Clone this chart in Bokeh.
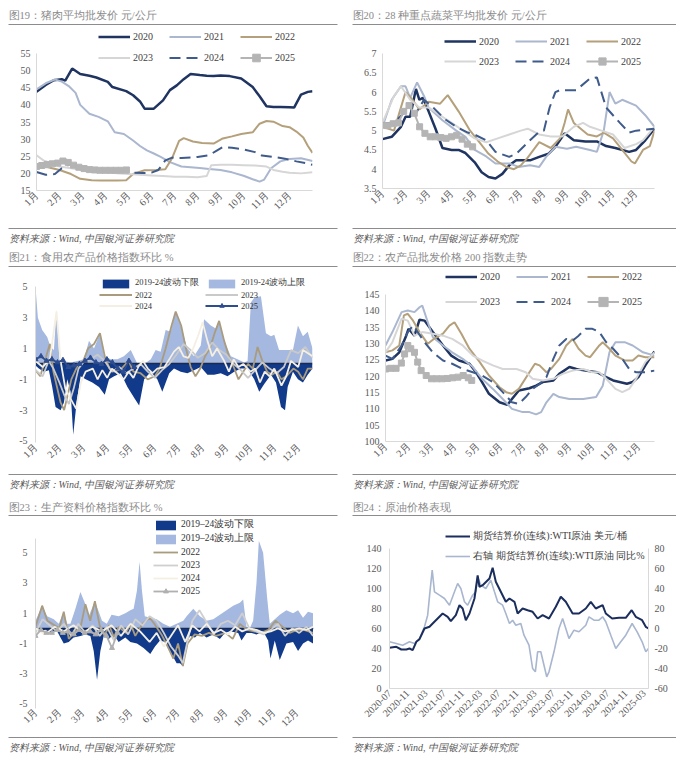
import math
from bokeh.plotting import figure
from bokeh.models import Legend, LegendItem, Range1d, LinearAxis, FixedTicker
from bokeh.layouts import column, row
from bokeh.core.properties import value
from bokeh.embed import file_html
from bokeh.resources import INLINE

# ---------------- data ----------------
MONTH_TICKS = list(range(12))
MONTH_LABELS = ["1月", "2月", "3月", "4月", "5月", "6月", "7月", "8月", "9月", "10月", "11月", "12月"]

# Fig 19 pork wholesale price (x = month index, y = yuan/kg)
PORK_2020 = [(0, 43.8), (0.4, 45.8), (0.75, 47.2), (1.1, 47.5), (1.25, 47.1), (1.55, 50.6), (1.9, 49.0), (2.3, 48.5),
             (2.6, 48.0), (3.1, 46.7), (3.3, 45.2), (3.9, 44.0), (4.2, 42.8), (4.5, 41.0), (4.7, 38.9), (5.1, 38.9),
             (5.5, 41.3), (5.8, 44.3), (6.1, 45.7), (6.4, 47.5), (6.7, 49.0), (7.1, 48.7), (7.4, 48.5), (7.7, 48.4),
             (8.0, 48.6), (8.4, 48.4), (8.9, 47.7), (9.4, 45.2), (9.7, 42.5), (10.0, 39.6), (10.3, 39.4), (10.6, 39.4),
             (11.0, 39.3), (11.2, 39.2), (11.5, 43.0), (11.8, 43.8), (12.0, 44.0)]
PORK_2021 = [(0, 44.5), (0.4, 46.3), (0.8, 47.4), (1.1, 46.8), (1.4, 45.5), (1.7, 43.5), (1.9, 40.0), (2.3, 37.4),
             (2.7, 36.5), (3.1, 35.2), (3.4, 32.0), (3.8, 31.5), (4.2, 29.6), (4.5, 28.0), (4.8, 26.7), (5.1, 25.8),
             (5.4, 24.8), (5.8, 23.3), (6.3, 22.0), (6.7, 21.8), (7.1, 21.6), (7.5, 21.3), (8.0, 21.0), (8.5, 20.3),
             (9.0, 19.3), (9.4, 18.3), (9.7, 17.6), (9.9, 18.2), (10.2, 21.5), (10.6, 23.5), (11.0, 24.2), (11.5, 24.4),
             (12.0, 23.6)]
PORK_2022 = [(0, 22.0), (0.5, 21.8), (1.0, 21.0), (1.5, 19.8), (1.9, 18.4), (2.4, 18.0), (2.8, 17.9), (3.5, 17.9),
             (3.9, 18.0), (4.2, 19.8), (4.7, 20.9), (5.2, 21.0), (5.6, 21.2), (5.9, 24.5), (6.2, 29.5), (6.4, 30.3),
             (6.8, 29.3), (7.2, 28.9), (7.7, 28.7), (8.1, 30.2), (8.5, 30.8), (8.9, 31.5), (9.4, 32.0), (9.7, 34.5),
             (10.0, 35.3), (10.3, 35.1), (10.7, 33.8), (11.0, 33.5), (11.3, 32.2), (11.6, 30.5), (11.8, 28.0), (12.0, 26.0)]
PORK_2023 = [(0, 25.3), (0.3, 23.8), (0.7, 22.8), (1.0, 22.0), (1.5, 21.5), (2.0, 21.0), (2.5, 20.5), (3.0, 20.3),
             (3.5, 20.0), (4.0, 19.8), (4.5, 19.6), (5.0, 19.4), (5.5, 19.2), (6.0, 19.0), (6.5, 19.0), (7.0, 18.9),
             (7.4, 19.2), (7.6, 22.4), (8.0, 22.5), (8.5, 22.5), (9.0, 22.4), (9.5, 22.3), (10.0, 22.0), (10.3, 21.0),
             (10.7, 20.5), (11.0, 20.2), (11.5, 20.0), (12.0, 20.3)]
PORK_2024 = [(0, 20.4), (0.4, 19.6), (0.8, 19.8), (1.1, 21.5), (1.4, 22.5), (1.8, 22.0), (2.2, 21.3), (2.8, 20.8),
             (3.4, 20.5), (4.0, 20.3), (4.6, 20.1), (5.0, 20.2), (5.3, 21.0), (5.6, 23.8), (5.9, 24.6), (6.3, 24.5),
             (6.7, 24.6), (7.0, 24.8), (7.5, 25.3), (7.8, 26.5), (8.1, 27.7), (8.5, 27.5), (9.0, 27.0), (9.5, 26.2),
             (9.8, 25.2), (10.3, 24.8), (10.8, 24.3), (11.3, 23.5), (11.7, 23.0), (12.0, 22.5)]
PORK_2025 = [(0, 22.0), (0.23, 22.3), (0.46, 22.6), (0.69, 22.8), (0.92, 23.0), (1.15, 23.6), (1.38, 23.2), (1.61, 22.4),
             (1.84, 21.8), (2.07, 21.4), (2.3, 21.1), (2.53, 21.0), (2.76, 20.9), (2.99, 20.9), (3.22, 20.9), (3.45, 20.9),
             (3.68, 20.9), (3.91, 21.0)]
PORK_TICKS = [15, 20, 25, 30, 35, 40, 45, 50, 55]

# Fig 20 vegetables
VEG_2020 = [(0, 4.78), (0.4, 4.84), (0.8, 5.1), (1.0, 5.36), (1.2, 5.36), (1.45, 6.08), (1.6, 5.8), (1.75, 5.85),
            (2.0, 5.5), (2.3, 5.05), (2.6, 4.55), (3.0, 4.5), (3.3, 4.5), (3.6, 4.42), (4.0, 4.18), (4.3, 3.92),
            (4.6, 3.8), (4.9, 3.76), (5.2, 3.88), (5.5, 4.1), (5.8, 4.23), (6.4, 4.23), (6.8, 4.32), (7.2, 4.4),
            (7.5, 4.58), (7.9, 4.93), (8.3, 4.75), (8.8, 4.72), (9.3, 4.72), (9.7, 4.6), (10.1, 4.55), (10.7, 4.45),
            (11.0, 4.5), (11.4, 4.75), (11.8, 5.05)]
VEG_2021 = [(0, 5.1), (0.4, 5.8), (0.8, 6.15), (1.0, 6.15), (1.2, 5.85), (1.5, 6.25), (1.8, 5.9), (2.0, 5.6),
            (2.6, 5.27), (3.2, 5.0), (3.6, 4.84), (4.0, 4.5), (4.5, 4.33), (4.9, 4.15), (5.5, 4.15), (5.9, 4.06),
            (6.4, 4.1), (6.8, 4.06), (7.1, 4.32), (7.5, 4.58), (8.0, 4.53), (8.4, 4.58), (9.0, 4.5), (9.3, 4.45),
            (9.6, 5.0), (9.85, 6.0), (10.1, 5.7), (10.4, 5.8), (11.0, 5.65), (11.4, 5.4), (11.8, 5.1)]
VEG_2022 = [(0, 5.1), (0.5, 5.0), (1.0, 6.0), (1.3, 5.8), (1.6, 5.55), (2.0, 5.75), (2.5, 5.7), (2.83, 5.92),
            (3.3, 5.5), (3.8, 5.0), (4.2, 4.7), (4.6, 4.4), (5.0, 4.2), (5.4, 4.05), (5.7, 4.0), (6.0, 4.1),
            (6.3, 4.3), (6.8, 4.7), (7.3, 4.55), (7.7, 4.8), (7.9, 5.2), (8.05, 5.55), (8.3, 5.2), (8.9, 4.9),
            (9.3, 4.85), (9.6, 4.95), (10.0, 4.8), (10.4, 4.5), (10.8, 4.2), (10.95, 4.15), (11.3, 4.5), (11.6, 4.6),
            (11.8, 5.0)]
VEG_2023 = [(0, 5.2), (0.5, 5.9), (0.8, 6.15), (1.2, 5.8), (1.6, 5.6), (2.0, 5.6), (2.5, 5.4), (3.0, 5.2),
            (3.5, 5.0), (4.0, 4.8), (4.5, 4.7), (5.0, 4.8), (5.5, 4.9), (6.0, 5.0), (6.3, 5.05), (6.8, 4.9),
            (7.3, 4.85), (7.8, 4.85), (8.3, 5.1), (8.7, 5.2), (9.0, 5.1), (9.5, 5.0), (10.0, 4.9), (10.5, 4.55),
            (11.0, 4.65), (11.3, 4.75), (11.8, 5.1)]
VEG_2024 = [(0, 5.2), (0.5, 5.2), (1.0, 5.5), (1.4, 5.4), (1.8, 5.8), (2.2, 5.6), (2.7, 5.3), (3.2, 5.1),
            (3.7, 4.95), (4.05, 4.88), (4.5, 4.75), (4.9, 4.45), (5.5, 4.32), (5.8, 4.4), (6.4, 4.75), (6.8, 4.97),
            (7.0, 5.0), (7.25, 5.6), (7.5, 6.0), (7.7, 6.05), (8.4, 6.05), (9.0, 6.35), (9.3, 6.38), (9.7, 5.6),
            (10.3, 5.2), (10.7, 4.95), (11.0, 5.0), (11.8, 5.05)]
VEG_2025 = [(0, 5.14), (0.23, 5.13), (0.46, 5.18), (0.69, 5.2), (0.92, 5.5), (1.15, 5.65), (1.38, 5.45), (1.61, 5.1),
            (1.84, 4.93), (2.07, 4.84), (2.3, 4.84), (2.53, 4.82), (2.76, 4.8), (2.99, 4.84), (3.22, 4.88), (3.45, 4.78),
            (3.68, 4.65), (3.91, 4.58)]
VEG_TICKS = [3.5, 4, 4.5, 5, 5.5, 6, 6.5, 7]
VEG_LABELS = ["3.5", "4", "4.5", "5", "5.5", "6", "6.5", "7"]

# Fig 21 edible agricultural products price index, w/w %
FOOD_LOW = [(0, -0.1), (0.14, -0.3), (0.35, -0.5), (0.56, -0.4), (0.7, -1.5), (0.84, -2.8), (1.05, -3.0), (1.19, -2.5),
            (1.33, -1.0), (1.47, -1.8), (1.58, -4.6), (1.72, -2.5), (1.89, -0.8), (2.1, -1.0), (2.38, -1.2), (2.66, -1.5),
            (2.9, -2.0), (3.08, -1.0), (3.29, -0.8), (3.57, -0.6), (3.85, -1.5), (4.13, -2.2), (4.34, -2.7), (4.55, -1.0),
            (4.83, -0.5), (5.1, -1.0), (5.31, -1.8), (5.6, -0.6), (5.8, -0.3), (6.08, -0.5), (6.36, -0.6), (6.64, -0.4),
            (6.92, -0.2), (7.2, -0.7), (7.48, -0.7), (7.76, -0.6), (8.04, -0.8), (8.32, -0.5), (8.6, -0.3), (8.88, -0.3),
            (9.16, -1.0), (9.37, -1.8), (9.58, -1.3), (9.86, -0.7), (10.07, -1.2), (10.28, -2.8), (10.45, -3.0),
            (10.56, -1.5), (10.78, -0.5), (10.99, -1.0), (11.2, -1.2), (11.4, -0.7), (11.6, -0.3)]
FOOD_UP = [(0, 5.0), (0.1, 3.0), (0.28, 2.2), (0.49, 1.75), (0.63, 1.1), (0.77, 0.9), (0.88, 3.5), (1.0, 0.3),
           (1.19, 0.2), (1.47, 0.1), (1.75, 0.2), (2.03, 0.3), (2.24, 1.5), (2.45, 1.0), (2.7, 2.0), (2.87, 0.5),
           (3.15, 0.3), (3.43, 0.3), (3.7, 0.5), (3.99, 0.9), (4.27, 0.0), (4.55, 0.0), (4.83, 0.3), (5.03, 0.9),
           (5.24, 0.8), (5.45, 2.2), (5.66, 2.1), (5.87, 3.4), (6.08, 2.5), (6.36, 1.0), (6.64, 0.5), (6.92, 1.2),
           (7.06, 2.9), (7.34, 2.5), (7.55, 2.3), (7.69, 2.8), (7.9, 1.5), (8.18, 0.5), (8.46, 0.3), (8.74, 0.1),
           (8.88, 0.2), (9.02, 4.0), (9.16, 4.3), (9.44, 4.4), (9.65, 2.0), (9.86, 1.8), (10.0, 1.9), (10.2, 0.9),
           (10.5, 0.9), (10.78, 0.9), (10.99, 2.5), (11.2, 1.8), (11.4, 2.1), (11.6, 1.0)]
FOOD_2022 = [(0, -0.4), (0.2, -0.8), (0.45, 0.5), (0.6, 1.3), (0.75, -0.5), (0.9, -1.5), (1.05, -2.5), (1.2, -3.0),
             (1.35, -2.0), (1.5, -1.0), (1.65, -0.5), (1.8, 0.0), (2.0, 0.2), (2.2, 1.0), (2.45, 1.3), (2.7, 2.0),
             (2.9, 0.5), (3.1, -0.3), (3.3, -0.5), (3.6, -0.3), (3.9, 0.2), (4.1, -0.5), (4.4, -0.6), (4.7, -1.0),
             (5.0, -0.8), (5.2, -0.3), (5.45, 1.0), (5.7, 2.5), (5.87, 3.4), (6.1, 2.5), (6.3, 1.0), (6.5, -0.2),
             (6.7, -0.8), (6.9, -0.3), (7.1, 0.5), (7.3, 1.0), (7.5, 2.0), (7.69, 2.8), (7.9, 1.5), (8.1, 0.5),
             (8.3, -0.2), (8.5, -1.0), (8.7, -0.5), (8.9, 0.0), (9.1, -0.3), (9.3, 1.1), (9.5, 0.2), (9.7, -0.5),
             (9.9, -0.7), (10.1, -0.5), (10.3, -1.0), (10.5, -0.8), (10.8, -0.3), (11.0, -0.5), (11.2, -1.0),
             (11.4, -0.3), (11.6, -0.3)]
FOOD_2023 = [(0, -0.4), (0.3, -0.8), (0.55, 0.2), (0.75, -0.3), (1.0, -1.2), (1.2, -2.0), (1.4, -2.6), (1.6, -1.6),
             (1.8, -0.3), (2.0, 0.1), (2.3, 0.3), (2.6, 0.6), (2.9, 0.2), (3.2, -0.5), (3.5, -0.2), (3.8, -0.6),
             (4.1, -0.3), (4.4, 0.0), (4.7, -0.5), (5.0, -0.9), (5.3, -0.4), (5.6, 0.0), (5.9, 0.6), (6.2, 1.3),
             (6.5, 0.9), (6.8, 0.4), (7.1, 0.7), (7.4, 1.4), (7.7, 0.9), (8.0, 0.6), (8.3, 0.0), (8.6, -0.4),
             (8.9, -0.9), (9.2, -0.4), (9.5, 0.1), (9.8, -0.3), (10.1, -0.6), (10.4, -0.2), (10.7, 0.9), (11.0, 0.7),
             (11.3, 1.1), (11.6, 0.4)]
FOOD_2024 = [(0, 0.2), (0.3, -0.2), (0.6, 0.3), (0.88, 3.4), (1.05, 0.2), (1.25, -1.6), (1.45, -2.2), (1.7, -2.9),
             (1.9, -1.2), (2.1, -0.5), (2.4, -0.3), (2.6, -1.0), (2.8, -0.4), (3.0, -0.9), (3.2, -0.3), (3.5, -0.7),
             (3.7, -1.0), (3.9, -0.5), (4.1, -0.9), (4.3, -0.2), (4.5, 0.2), (4.7, -0.3), (4.9, -0.6), (5.1, -0.3),
             (5.4, -0.2), (5.6, 0.3), (5.8, 0.8), (6.0, 1.1), (6.2, 0.5), (6.4, 0.4), (6.6, 1.0), (6.8, 1.8),
             (7.0, 2.7), (7.2, 1.5), (7.4, 0.5), (7.6, 1.0), (7.9, 0.2), (8.1, -0.5), (8.3, 0.3), (8.5, -0.2),
             (8.7, 0.0), (9.0, -0.5), (9.2, -0.3), (9.4, -1.2), (9.6, -0.5), (9.8, -0.8), (10.0, -0.3), (10.3, -1.4),
             (10.5, -0.8), (10.7, 0.2), (11.0, -0.2), (11.2, 0.9), (11.6, 0.5)]
FOOD_2025 = [(0, 0.3), (0.23, 0.5), (0.46, 0.2), (0.69, 0.3), (0.92, 0.1), (1.15, 0.25), (1.38, -0.2), (1.61, -0.1),
             (1.84, 0.0), (2.07, 0.2), (2.3, 0.4), (2.53, 0.1), (2.76, 0.0), (2.99, 0.3), (3.22, 0.1), (3.45, -0.3),
             (3.68, -0.5), (3.91, 0.2), (4.14, -0.2)]
RATIO_TICKS = [-5, -3, -1, 1, 3, 5]
RATIO_LABELS = ["-5", "-3", "-1", "1", "3", "5"]

# Fig 22 agricultural wholesale price 200 index
IDX_2020 = [(0, 124.8), (0.3, 125.3), (0.6, 127.3), (0.9, 132.4), (1.0, 134.5), (1.26, 132.4), (1.48, 137.3), (1.7, 137.0),
            (2.06, 133.5), (2.5, 129.4), (2.86, 126.3), (3.2, 124.8), (3.65, 123.8), (3.94, 121.2), (4.2, 118.2),
            (4.5, 114.6), (4.96, 112.0), (5.3, 111.2), (5.5, 113.0), (5.8, 115.6), (6.26, 116.3), (6.55, 117.1),
            (6.84, 118.2), (7.3, 118.7), (7.56, 120.7), (8.0, 122.8), (8.3, 122.2), (8.7, 121.7), (9.2, 121.2),
            (9.6, 119.7), (9.9, 118.7), (10.5, 117.7), (10.75, 118.2), (11.0, 119.7), (11.3, 123.3), (11.7, 127.6)]
IDX_2021 = [(0, 129.4), (0.3, 133.5), (0.7, 139.6), (0.97, 140.1), (1.26, 139.6), (1.48, 141.1), (1.6, 141.6), (1.84, 136.5),
            (2.06, 131.9), (2.5, 129.4), (2.9, 127.3), (3.36, 125.3), (3.8, 122.8), (4.2, 119.2), (4.67, 116.1),
            (5.1, 113.0), (5.5, 110.0), (5.97, 109.0), (6.26, 109.0), (6.55, 108.3), (6.77, 109.0), (7.0, 112.0),
            (7.3, 114.6), (7.56, 113.6), (8.0, 113.0), (8.6, 113.0), (9.16, 113.6), (9.45, 117.1), (9.74, 127.3),
            (10.0, 130.4), (10.4, 130.4), (10.75, 129.4), (11.2, 127.3), (11.7, 126.3)]
IDX_2022 = [(0, 127.3), (0.3, 127.9), (0.6, 129.4), (0.8, 138.6), (0.97, 139.1), (1.2, 137.0), (1.48, 133.5), (1.84, 129.9),
            (2.1, 131.4), (2.5, 133.0), (2.78, 135.5), (3.0, 136.5), (3.3, 133.0), (3.65, 128.4), (4.1, 124.3),
            (4.5, 120.2), (4.96, 116.6), (5.25, 115.1), (5.5, 114.6), (5.8, 116.1), (6.26, 121.2), (6.5, 123.8),
            (6.7, 123.3), (7.0, 121.2), (7.2, 122.2), (7.56, 125.3), (7.86, 129.4), (8.14, 131.4), (8.4, 128.4),
            (8.7, 126.3), (8.9, 125.8), (9.3, 129.4), (9.45, 130.4), (9.74, 128.4), (10.0, 126.3), (10.4, 124.8),
            (10.75, 124.8), (11.0, 126.3), (11.3, 125.8), (11.7, 125.8)]
IDX_2023 = [(0, 127.3), (0.3, 130.4), (0.7, 137.6), (0.97, 137.0), (1.26, 132.4), (1.6, 133.5), (2.06, 133.0), (2.5, 132.4),
            (2.9, 131.4), (3.36, 129.4), (3.8, 126.3), (4.2, 124.8), (4.67, 123.3), (5.1, 122.2), (5.7, 122.2),
            (6.1, 121.2), (6.4, 119.2), (6.84, 118.7), (7.3, 119.2), (7.7, 120.7), (8.14, 121.7), (8.6, 122.2),
            (9.0, 121.2), (9.3, 121.2), (9.6, 119.2), (10.0, 116.1), (10.3, 115.1), (10.6, 116.1), (10.9, 119.2),
            (11.3, 124.3), (11.7, 127.3)]
IDX_2024 = [(0, 126.3), (0.3, 125.3), (0.7, 129.4), (0.97, 133.5), (1.2, 135.5), (1.4, 133.5), (1.7, 130.4), (2.06, 127.3),
            (2.5, 124.8), (2.9, 123.8), (3.36, 122.2), (3.8, 121.2), (4.2, 120.2), (4.67, 118.2), (5.1, 115.1),
            (5.5, 112.0), (5.8, 111.5), (6.1, 113.6), (6.4, 116.1), (6.7, 117.6), (7.0, 119.7), (7.3, 125.3),
            (7.56, 129.4), (7.86, 131.4), (8.14, 130.9), (8.4, 132.4), (8.7, 134.5), (9.0, 134.5), (9.3, 133.5),
            (9.6, 130.4), (9.9, 128.4), (10.3, 125.3), (10.6, 122.2), (10.9, 121.2), (11.3, 121.2), (11.7, 121.7)]
IDX_2025 = [(0, 122.2), (0.23, 122.4), (0.46, 122.4), (0.69, 124.0), (0.83, 126.8), (0.97, 129.4), (1.1, 128.4),
            (1.26, 127.3), (1.4, 124.3), (1.55, 121.7), (1.77, 120.2), (2.0, 119.2), (2.23, 119.2), (2.46, 119.2),
            (2.69, 119.3), (2.92, 119.5), (3.15, 119.7), (3.38, 120.2), (3.6, 119.5), (3.75, 118.7)]
IDX_TICKS = [100, 105, 110, 115, 120, 125, 130, 135, 140, 145]

# Fig 23 means of production price index, w/w %
PROD_LOW = [(0, 0.0), (0.2, -0.2), (0.42, -0.1), (0.63, -0.3), (0.91, -0.2), (1.05, -0.6), (1.19, -1.0), (1.4, -0.9),
            (1.6, -0.6), (1.89, -0.5), (2.1, -0.4), (2.31, -0.5), (2.45, -1.5), (2.59, -3.4), (2.73, -1.5), (2.87, -0.5),
            (3.08, -0.7), (3.29, -0.4), (3.5, -0.9), (3.78, -0.6), (3.99, -0.9), (4.27, -1.0), (4.55, -1.3), (4.83, -1.7),
            (5.03, -1.2), (5.24, -0.8), (5.45, -0.9), (5.66, -1.5), (5.94, -2.3), (6.08, -2.3), (6.22, -2.5), (6.36, -1.0),
            (6.5, -0.5), (6.71, -0.6), (6.92, -0.3), (7.2, -0.6), (7.48, -0.4), (7.76, -0.7), (7.97, -0.3), (8.18, -0.2),
            (8.53, -0.3), (8.67, -0.8), (8.88, -0.3), (9.09, -0.3), (9.3, -0.4), (9.58, -0.2), (9.79, -0.8), (9.89, -2.0),
            (10.07, -0.8), (10.28, -2.1), (10.56, -1.0), (10.84, -0.9), (11.05, -1.5), (11.26, -1.0), (11.47, -0.8),
            (11.68, -1.0)]
PROD_UP = [(0, 0.5), (0.28, 1.5), (0.49, 0.8), (0.77, 0.6), (0.98, 0.3), (1.19, 1.1), (1.33, 0.3), (1.47, 0.3),
           (1.68, 1.3), (1.89, 2.4), (2.1, 1.6), (2.24, 0.8), (2.5, 1.8), (2.8, 0.5), (3.0, 0.3), (3.2, 0.9),
           (3.5, 0.8), (3.78, 1.0), (3.99, 1.2), (4.13, 1.3), (4.27, 2.5), (4.38, 4.4), (4.48, 2.5), (4.6, 0.8),
           (4.83, 0.7), (5.1, 0.6), (5.38, 0.3), (5.66, 0.1), (5.94, 0.3), (6.22, 0.5), (6.36, 0.8), (6.64, 1.3),
           (6.92, 0.8), (7.2, 0.5), (7.48, 0.6), (7.76, 0.9), (8.04, 1.2), (8.32, 1.5), (8.6, 1.7), (8.74, 1.9),
           (8.88, 0.1), (9.02, 0.0), (9.16, 0.5), (9.3, 3.0), (9.4, 5.8), (9.58, 5.0), (9.75, 2.0), (9.86, 0.3),
           (10.07, 0.6), (10.28, 0.9), (10.56, 1.2), (10.84, 1.0), (11.05, 1.2), (11.26, 0.7), (11.47, 1.1), (11.68, 1.0)]
PROD_2022 = [(0, 0.1), (0.28, 1.5), (0.5, 0.5), (0.8, 0.2), (1.0, 0.0), (1.19, 1.1), (1.4, -0.7), (1.6, -0.3),
             (1.9, 0.1), (2.1, 1.6), (2.3, 0.5), (2.5, 1.8), (2.7, 0.2), (2.9, -0.5), (3.1, 0.2), (3.3, -0.6),
             (3.5, 0.1), (3.8, -0.3), (4.0, 0.3), (4.2, -0.5), (4.5, 0.3), (4.8, 0.7), (5.0, 0.3), (5.3, -0.4),
             (5.5, -1.0), (5.8, -2.0), (6.0, -1.0), (6.2, -2.5), (6.4, -1.0), (6.7, -0.4), (7.0, -0.5), (7.3, -0.3),
             (7.6, -0.5), (8.0, -0.3), (8.3, -0.7), (8.6, 0.3), (8.9, -0.1), (9.2, -0.2), (9.5, -0.3), (9.8, -0.1),
             (10.1, 0.5), (10.4, 0.1), (10.7, -0.3), (11.0, -0.1), (11.3, -0.1), (11.68, -0.3)]
PROD_2023 = [(0, -0.3), (0.3, 0.6), (0.6, 0.2), (0.9, -0.2), (1.2, 0.3), (1.5, -0.5), (1.8, 0.3), (2.1, -0.3),
             (2.4, 0.2), (2.7, -0.5), (3.0, 0.1), (3.3, -0.8), (3.6, 0.2), (3.9, -0.4), (4.2, 0.6), (4.5, 0.2),
             (4.8, 0.8), (5.1, 0.5), (5.4, -0.3), (5.7, -1.2), (6.0, -1.8), (6.2, -2.3), (6.4, -0.8), (6.6, 0.5),
             (6.9, 1.2), (7.2, 0.4), (7.5, -0.4), (7.8, 0.3), (8.1, 0.5), (8.4, 0.2), (8.7, 1.0), (9.0, 0.0),
             (9.3, -0.2), (9.6, -0.4), (9.9, -0.1), (10.2, 0.3), (10.5, -0.5), (10.8, 0.0), (11.1, -0.3), (11.4, 0.1),
             (11.68, -0.5)]
PROD_2024 = [(0, 0.0), (0.4, -0.4), (0.8, 0.1), (1.2, -0.2), (1.6, 0.2), (2.0, -0.3), (2.4, 0.1), (2.8, -0.2),
             (3.2, 0.2), (3.6, -0.5), (4.0, 0.3), (4.4, -0.2), (4.8, -0.9), (5.1, -0.3), (5.4, -1.2), (5.7, -0.5),
             (6.0, 0.2), (6.3, -0.9), (6.6, 0.2), (6.9, -0.2), (7.2, 0.3), (7.5, -0.3), (7.8, -0.1), (8.1, -0.4),
             (8.4, 0.1), (8.7, -0.2), (9.0, 0.0), (9.3, -0.1), (9.6, -0.3), (9.9, -0.2), (10.2, 0.0), (10.5, -0.2),
             (10.8, -0.1), (11.1, 0.0), (11.4, -0.1), (11.68, 0.1)]
PROD_2025 = [(0, -0.5), (0.23, -0.1), (0.46, -0.3), (0.69, -0.3), (0.92, -0.1), (1.15, -0.3), (1.38, -0.2), (1.61, -0.4),
             (1.84, -0.1), (2.07, -0.3), (2.3, -0.2), (2.53, -0.4), (2.76, -0.1), (2.99, -0.5), (3.22, -1.3), (3.45, -0.3)]

# Fig 24 WTI crude (x = months since 2020-07)
WTI_PRICE = [(0, 40.7), (1.5, 41.7), (2.6, 39.0), (3.7, 39.0), (4.4, 40.0), (5.1, 38.3), (5.9, 46.7), (6.6, 49.3),
             (7.7, 60.0), (8.8, 61.7), (9.5, 65.0), (10.6, 70.0), (11.7, 75.0), (12.8, 71.7), (13.5, 67.3), (14.6, 73.3),
             (15.4, 83.3), (16.1, 80.0), (16.8, 68.3), (17.6, 75.0), (18.7, 90.0), (19.4, 113.0), (19.8, 101.7),
             (20.5, 103.3), (22.0, 110.0), (22.7, 120.7), (23.4, 106.7), (24.5, 96.7), (25.6, 86.7), (26.4, 90.0),
             (27.5, 86.7), (28.2, 75.0), (29.3, 80.0), (30.4, 78.3), (31.5, 76.7), (32.6, 70.0), (33.7, 73.3),
             (35.1, 70.0), (36.6, 81.7), (37.7, 91.7), (38.8, 86.7), (40.3, 75.0), (41.7, 75.0), (43.2, 80.0),
             (44.3, 86.7), (45.4, 80.0), (46.9, 83.3), (47.6, 75.0), (49.0, 70.0), (50.5, 70.7), (52.0, 70.7),
             (53.3, 78.3), (54.2, 71.7), (55.6, 68.3), (56.4, 61.7), (57.0, 60.0)]
WTI_YOY = [(0, -13.3), (1.5, -15.0), (2.9, -16.7), (4.4, -13.3), (5.5, -15.0), (6.6, -10.0), (7.7, 1.7), (8.4, 13.3),
           (8.9, 36.7), (9.4, 58.3), (9.9, 36.7), (11.0, 33.3), (12.1, 30.0), (13.2, 23.3), (14.3, 36.7), (15.0, 45.0),
           (15.7, 40.0), (16.5, 26.7), (17.2, 23.3), (18.3, 33.3), (19.0, 36.7), (19.4, 51.7), (20.1, 43.3),
           (21.2, 40.0), (22.3, 48.3), (23.1, 36.7), (23.8, 26.7), (24.9, 23.3), (25.6, 15.0), (26.4, 5.0),
           (27.1, 8.3), (27.8, 3.3), (28.9, 5.0), (29.6, -6.7), (30.7, -16.7), (31.5, -40.0), (32.1, -43.3),
           (32.6, -23.3), (33.3, -23.3), (34.0, -36.7), (34.6, -48.3), (35.1, -43.3), (36.2, -23.3), (37.3, 0.0),
           (38.1, 10.0), (38.8, 0.0), (39.5, -10.0), (40.6, -1.7), (41.7, -3.3), (43.2, 3.3), (43.9, 11.7),
           (45.0, 8.3), (46.1, 8.3), (46.9, 11.7), (47.6, 6.7), (48.7, -6.7), (49.8, -20.0), (50.9, -13.3),
           (52.0, -6.7), (53.4, 5.0), (54.5, -3.3), (55.6, -13.3), (56.4, -23.3), (57.0, -20.0)]
WTI_TICKS = [0, 20, 40, 60, 80, 100, 120, 140]
YOY_TICKS = [-60, -40, -20, 0, 20, 40, 60, 80]
DATE_TICKS = [0, 4, 8, 12, 16, 20, 24, 28, 32, 36, 40, 44, 48, 52, 56]
DATE_LABELS = ["2020-07", "2020-11", "2021-03", "2021-07", "2021-11", "2022-03", "2022-07", "2022-11",
               "2023-03", "2023-07", "2023-11", "2024-03", "2024-07", "2024-11", "2025-03"]

TITLES = ["图19：猪肉平均批发价 元/公斤", "图20：28 种重点蔬菜平均批发价 元/公斤",
          "图21：食用农产品价格指数环比 %", "图22：农产品批发价格 200 指数走势",
          "图23：生产资料价格指数环比 %", "图24：原油价格表现"]
SOURCE = "资料来源：Wind,  中国银河证券研究院"

# ---------------- style ----------------
SERIF = "Liberation Serif"
C2020 = "#1f3461"
C2021 = "#aab7cf"
C2022 = "#b5a07c"
C2023 = "#d6d6d6"
C2024 = "#3f5b8c"
C2025 = "#b4b4b4"
BAND_LOW = "#123a8a"
BAND_UP = "#a5b8df"
AXIS_LINE = "#d9d9d9"
TICK_COLOR = "#595959"
LW = 342   # left column width (includes 8px page margin)
RW = 334   # right column width
M = 8      # page margin emulation


def xs(pts):
    return [p[0] for p in pts]


def ys(pts):
    return [p[1] for p in pts]


def strip(width, height, text, text_y, rule_y, x0, x1, color, italic=False, size="10.5px"):
    f = figure(width=width, height=height, x_range=Range1d(0, width), y_range=Range1d(0, height),
               toolbar_location=None, output_backend="svg", min_border=0,
               x_axis_location=None, y_axis_location=None)
    f.outline_line_color = None
    f.grid.visible = False
    f.segment(x0=[x0], y0=[rule_y], x1=[x1], y1=[rule_y], line_color="#8c8c8c", line_width=1)
    f.text(x=[x0], y=[text_y], text=[text], text_font=value(SERIF), text_font_size=size,
           text_color=color, text_baseline="middle", text_align="left",
           text_font_style="italic" if italic else "normal")
    return f


def main_fig(width, height, xr, yr, borders):
    l, r, t, b = borders
    p = figure(width=width, height=height, x_range=Range1d(*xr), y_range=Range1d(*yr),
               toolbar_location=None, output_backend="svg",
               min_border_left=l, min_border_right=r, min_border_top=t, min_border_bottom=b)
    p.outline_line_color = None
    p.grid.visible = False
    return p


def style_axis(ax, ticks, labels, orientation=None, line_color=AXIS_LINE, standoff=4, bounds=None):
    ax.ticker = FixedTicker(ticks=ticks)
    ax.major_label_overrides = {t: lab for t, lab in zip(ticks, labels)}
    ax.major_tick_line_color = None
    ax.minor_tick_line_color = None
    ax.major_tick_out = 0
    ax.major_tick_in = 0
    ax.minor_tick_out = 0
    ax.axis_line_color = line_color
    ax.major_label_text_font = SERIF
    ax.major_label_text_font_size = "10px"
    ax.major_label_text_color = TICK_COLOR
    ax.major_label_standoff = standoff
    if bounds is not None:
        ax.bounds = bounds
    if orientation is not None:
        ax.major_label_orientation = orientation


def add_legend(p, items, ncols, vx, vy, glyph_w, item_h, spacing, label_w, font_size, color="#404040"):
    lg = Legend(items=items, location=(vx, vy), orientation="horizontal", ncols=ncols,
                glyph_width=glyph_w, glyph_height=item_h, label_height=item_h, label_width=label_w,
                spacing=spacing, padding=0, margin=0, label_standoff=3,
                background_fill_alpha=0, border_line_color=None,
                label_text_font=SERIF, label_text_font_size=font_size, label_text_color=color)
    p.add_layout(lg, "center")


def year_panel(p, series, legend_pos, dash="11 6"):
    cols = [C2020, C2021, C2022, C2023, C2024, C2025]
    names = ["2020", "2021", "2022", "2023", "2024", "2025"]
    items = []
    for i, (pts, c, n) in enumerate(zip(series, cols, names)):
        kw = dict(line_color=c, line_width=2.5 if i == 0 else 2)
        if i == 4:
            kw["line_dash"] = dash
        r = p.line(xs(pts), ys(pts), **kw)
        rs = [r]
        if i == 5:
            m = p.scatter(xs(pts), ys(pts), marker="square", size=6, fill_color=c, line_color=c)
            rs.append(m)
        items.append(LegendItem(label=n, renderers=rs))
    vx, vy, step = legend_pos
    add_legend(p, items, 3, vx, vy, 32, step - 2, 2, 34, "10px")


def band_panel(p, low, up, lines, line_cols, marker_col, legend_pos, dash_label, font_size):
    r_up = p.varea(x=xs(up), y1=0, y2=ys(up), fill_color=BAND_UP)
    r_low = p.varea(x=xs(low), y1=0, y2=ys(low), fill_color=BAND_LOW)
    p.hspan(y=[0], line_color="#1b2a4e", line_width=1.5)
    items = [LegendItem(label=f"2019{dash_label}24波动下限", renderers=[r_low]),
             LegendItem(label=f"2019{dash_label}24波动上限", renderers=[r_up])]
    names = ["2022", "2023", "2024", "2025"]
    for pts, c, n in zip(lines, line_cols, names):
        r = p.line(xs(pts), ys(pts), line_color=c, line_width=1.8)
        rs = [r]
        if n == "2025":
            rs.append(p.scatter(xs(pts), ys(pts), marker="triangle", size=5, fill_color=marker_col, line_color=marker_col))
        items.append(LegendItem(label=n, renderers=rs))
    vx, vy, item_h, spacing, label_w, ncols, gw = legend_pos
    add_legend(p, items, ncols, vx, vy, gw, item_h, spacing, label_w, font_size, "#333333")


# ---------------- panels ----------------
# Fig 19
p1 = main_fig(LW, 198, (0, 12), (15, 62.3), (28 + M, 30, 0, 36))
style_axis(p1.xaxis[0], MONTH_TICKS, MONTH_LABELS, math.pi / 4, standoff=3)
style_axis(p1.yaxis[0], PORK_TICKS, [str(t) for t in PORK_TICKS], standoff=6, bounds=(15, 55))
year_panel(p1, [PORK_2020, PORK_2021, PORK_2022, PORK_2023, PORK_2024, PORK_2025], (62, 123, 21))

# Fig 20
p2 = main_fig(RW, 198, (0, 11.8), (3.5, 7.648), (40, 22, 0, 38))
style_axis(p2.xaxis[0], MONTH_TICKS, MONTH_LABELS, math.pi / 4, standoff=3)
style_axis(p2.yaxis[0], VEG_TICKS, VEG_LABELS, standoff=6, bounds=(3.5, 7))
year_panel(p2, [VEG_2020, VEG_2021, VEG_2022, VEG_2023, VEG_2024, VEG_2025], (62, 118, 20))

# Fig 21
p3 = main_fig(LW, 204, (0, 11.6), (-5.1, 6.2), (27 + M, 30, 0, 30))
style_axis(p3.xaxis[0], MONTH_TICKS, MONTH_LABELS, math.pi / 4, line_color=None, standoff=3)
style_axis(p3.yaxis[0], RATIO_TICKS, RATIO_LABELS, standoff=8, bounds=(-5.1, 5.05))
band_panel(p3, FOOD_LOW, FOOD_UP, [FOOD_2022, FOOD_2023, FOOD_2024, FOOD_2025],
           ["#a99b7e", "#c9c9c9", "#f4efe2", "#2e4d8f"], "#2e4d8f",
           (64, 131, 11, 0, 70, 2, 33), "-", "8.5px")

# Fig 22
p4 = main_fig(RW, 204, (0, 11.7), (100, 152.96), (43, 22, 0, 31))
style_axis(p4.xaxis[0], MONTH_TICKS, MONTH_LABELS, math.pi / 4, standoff=3)
style_axis(p4.yaxis[0], IDX_TICKS, [str(t) for t in IDX_TICKS], standoff=6, bounds=(100, 145))
year_panel(p4, [IDX_2020, IDX_2021, IDX_2022, IDX_2023, IDX_2024, IDX_2025], (60, 128, 25))

# Fig 23
p5 = main_fig(LW, 218, (0, 11.7), (-5.3, 7.33), (27 + M, 29, 0, 26))
style_axis(p5.xaxis[0], MONTH_TICKS, MONTH_LABELS, math.pi / 4, line_color=None, standoff=2)
style_axis(p5.yaxis[0], RATIO_TICKS, RATIO_LABELS, standoff=8, bounds=(-5.3, 5.95))
band_panel(p5, PROD_LOW, PROD_UP, [PROD_2022, PROD_2023, PROD_2024, PROD_2025],
           ["#a99b7e", "#cfcfcf", "#f4efe2", "#b0b0b0"], "#b0b0b0",
           (118, 111, 12, 1, 80, 1, 25), "–", "9.5px")

# Fig 24
p6 = main_fig(RW, 218, (0, 57), (0, 171), (47, 28, 0, 47))
p6.extra_y_ranges = {"yoy": Range1d(-60, 111)}
right_ax = LinearAxis(y_range_name="yoy")
p6.add_layout(right_ax, "right")
style_axis(p6.xaxis[0], DATE_TICKS, DATE_LABELS, math.pi / 4, standoff=3)
style_axis(p6.yaxis[0], WTI_TICKS, [str(t) for t in WTI_TICKS], standoff=8, bounds=(0, 140))
style_axis(right_ax, YOY_TICKS, [str(t) for t in YOY_TICKS], standoff=6, bounds=(-60, 80))
r_yoy = p6.line(xs(WTI_YOY), ys(WTI_YOY), line_color="#a8b6cf", line_width=1.6, y_range_name="yoy")
r_wti = p6.line(xs(WTI_PRICE), ys(WTI_PRICE), line_color="#1a2d5c", line_width=2)
add_legend(p6, [LegendItem(label="期货结算价(连续):WTI原油 美元/桶", renderers=[r_wti]),
                LegendItem(label="右轴 期货结算价(连续):WTI原油 同比%", renderers=[r_yoy])],
           1, 56, 123, 25, 18, 2, 60, "10px")

# ---------------- layout ----------------
TITLE_COLOR = "#8a8a8a"
SRC_COLOR = "#595959"
left = column(
    strip(LW, 20 + M, TITLES[0], 13, 4, M, M + 329, TITLE_COLOR), row(p1),
    strip(LW, 19, SOURCE, 7, 17, M, M + 329, SRC_COLOR, True, "10px"),
    strip(LW, 23, TITLES[2], 11, 2, M, M + 329, TITLE_COLOR), row(p3),
    strip(LW, 23, SOURCE, 11, 21, M, M + 329, SRC_COLOR, True, "10px"),
    strip(LW, 22, TITLES[4], 10, 2, M, M + 329, TITLE_COLOR), row(p5),
    strip(LW, 20, SOURCE, 8, 18, M, M + 329, SRC_COLOR, True, "10px"),
)
right = column(
    strip(RW, 20 + M, TITLES[1], 13, 4, 10, 334, TITLE_COLOR), row(p2),
    strip(RW, 19, SOURCE, 7, 17, 10, 334, SRC_COLOR, True, "10px"),
    strip(RW, 23, TITLES[3], 11, 2, 10, 334, TITLE_COLOR), row(p4),
    strip(RW, 23, SOURCE, 11, 21, 10, 334, SRC_COLOR, True, "10px"),
    strip(RW, 22, TITLES[5], 10, 2, 10, 334, TITLE_COLOR), row(p6),
    strip(RW, 20, SOURCE, 8, 18, 10, 334, SRC_COLOR, True, "10px"),
)
layout = row(left, right)

open("out.html", "w").write(file_html(layout, INLINE))
